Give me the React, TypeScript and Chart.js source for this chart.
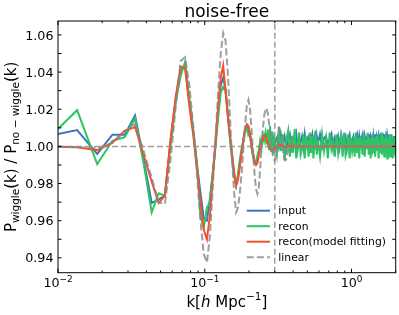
import React, { useEffect, useRef } from "react";
import { Chart, registerables } from "chart.js";
Chart.register(...registerables);

// ---------- data ----------
const kBins = [0.0085,0.0135,0.0185,0.0235,0.0285,0.0335,0.0385,0.0435,0.0485,0.0535,
0.0585,0.0635,0.0685,0.0735,0.0785,0.0835,0.0885,0.0935,0.0985,0.1035,
0.1085,0.1135,0.1185,0.1235,0.1285,0.1335,0.1385,0.1435,0.1485,0.1535,
0.1585,0.1635,0.1685,0.1735,0.1785,0.1835,0.1885,0.1935,0.1985,0.2035,
0.2085,0.2135,0.2185,0.2235,0.2285,0.2335,0.2385,0.2435,0.2485,0.2535,
0.2585,0.2635,0.2685,0.2735,0.2785,0.2835,0.2885,0.2935,0.2985];

const inputLow = [1.0055,1.0088,0.996,1.0063,1.0063,1.0167,0.992,0.9695,0.9715,0.9735,
1.003,1.026,1.041,1.043,1.024,1.008,0.990,0.975,0.961,0.960,
0.972,0.986,1.002,1.020,1.033,1.037,1.031,1.017,1.005,0.995,
0.985,0.979,0.984,0.991,0.997,1.004,1.009,1.011,1.010,1.006,
1.000,0.996,0.992,0.991,0.993,0.997,1.000,1.003,1.005,1.006,
1.005,1.003,1.004,1.002,1.000,1.003,0.999,1.004,1.001];

const reconLow = [1.004,1.0195,0.9905,1.003,1.005,1.015,0.990,0.9645,0.9748,0.9735,
1.001,1.024,1.038,1.0456,1.026,1.009,0.991,0.962,0.9565,0.967,
0.970,0.986,1.000,1.016,1.029,1.032,1.030,1.018,1.004,0.993,
0.984,0.979,0.985,0.993,0.999,1.003,1.008,1.010,1.006,1.007,
0.999,0.994,0.991,0.9905,0.995,0.998,1.003,0.999,1.006,1.003,
1.007,1.001,1.009,0.998,1.011,0.997,1.008,0.996,1.005];

const fitLow = [1.000,0.9995,0.998,1.002,1.0085,1.0104,0.995,0.981,0.9695,0.9735,
1.004,1.027,1.043,1.042,1.022,1.006,0.988,0.970,0.955,0.950,
0.963,0.983,1.003,1.022,1.037,1.0435,1.030,1.017,1.006,0.996,
0.986,0.979,0.982,0.989,0.997,1.004,1.0095,1.012,1.011,1.006,
1.001,0.996,0.992,0.990,0.991,0.995,0.999,1.002,1.004,1.0055,
1.006,1.004,1.002,1.000,0.999,0.998,0.9978,0.998,0.9988];

const linearLow = [1.000,0.9995,0.999,1.002,1.008,1.012,0.997,0.983,0.970,0.969,
0.993,1.022,1.046,1.048,1.033,1.011,0.985,0.960,0.942,0.9375,
0.952,0.978,1.005,1.030,1.050,1.061,1.057,1.040,1.016,0.993,
0.975,0.9645,0.967,0.975,0.986,0.999,1.012,1.022,1.025,1.020,
1.009,0.996,0.985,0.977,0.9745,0.978,0.988,0.999,1.009,1.016,
1.020,1.0205,1.018,1.013,1.008,1.002,0.997,0.9935,0.9925];

const kHigh = [0.31,0.32,0.33,0.34,0.35,0.36,0.37,0.38,0.39,0.40,
0.41,0.42,0.43,0.44,0.45,0.46,0.47,0.48,0.49,0.50,
0.51,0.52,0.53,0.54,0.55,0.56,0.57,0.58,0.59,0.61,
0.63,0.65,0.67,0.69,0.71,0.73,0.75,0.77,0.79,0.81,
0.83,0.85,0.87,0.89,0.91,0.93,0.95,0.97,0.99,1.01,
1.03,1.05,1.07,1.09,1.11,1.13,1.15,1.17,1.19,1.21,
1.23,1.25,1.27,1.29,1.31,1.33,1.35,1.37,1.39,1.41,
1.43,1.45,1.47,1.49,1.51,1.53,1.55,1.57,1.59,1.61,
1.63,1.65,1.67,1.69,1.71,1.73,1.75,1.77,1.79,1.81,
1.83,1.85,1.87,1.89,1.91,1.93,1.95,1.97,1.99];

const inputHigh = [1.0045,0.9995,1.0065,1.0015,1.0055,0.9985,1.0035,1.0065,0.9995,1.0045,
1.0015,1.0065,0.9985,1.0045,1.0025,1.0055,0.9995,1.0065,1.0005,1.0045,
1.0055,0.9995,1.0035,1.0065,1.0005,1.0045,0.9985,1.0055,1.0015,1.0065,
0.9995,1.0045,1.0055,1.0005,1.0035,1.0065,0.9985,1.0045,1.0015,1.0055,
0.9995,1.0065,1.0025,1.0035,1.0055,0.9985,1.0045,1.0065,0.9995,1.0035,
1.0055,1.0005,1.0045,1.0065,0.9995,1.0055,1.0015,1.0045,1.0065,0.9985,
1.0055,1.0025,1.0045,0.9995,1.0065,1.0015,1.0055,1.0035,0.9995,1.0055,
1.0015,1.0065,1.0005,1.0045,1.0025,1.0055,1.0015,1.0065,0.9995,1.0045,
1.0055,0.9995,1.0065,1.0015,1.0045,1.0005,1.0055,1.0025,1.0065,0.9995,
1.0055,1.0015,1.0065,1.0005,1.0045,1.0025,1.0055,0.9995,1.0055];

const reconHigh = [0.9955,1.0105,0.9975,1.0065,0.9925,1.0035,1.0085,0.9945,1.0055,0.9965,
1.0095,0.9935,1.0015,1.0075,0.9955,0.9985,1.0065,0.9935,1.0045,1.0025,
0.9945,1.0075,0.9965,1.0055,0.9935,1.0015,1.0085,0.9955,1.0035,0.9945,
1.0065,0.9975,1.0045,0.9935,1.0075,0.9985,1.0025,0.9945,1.0065,0.9965,
1.0035,1.0055,0.9945,1.0075,0.9955,0.9995,1.0065,0.9935,1.0045,0.9975,
1.0025,0.9945,1.0075,0.9965,1.0045,0.9935,1.0055,1.0015,0.9955,1.0065,
0.9945,1.0035,0.9985,1.0075,0.9955,1.0045,0.9935,1.0025,1.0065,0.9965,
1.0045,0.9945,1.0055,0.9975,1.0065,0.9935,1.0035,0.9965,1.0075,0.9955,
1.0025,1.0055,0.9945,1.0045,0.9965,1.0065,0.9935,1.0035,0.9975,1.0055,
0.9945,1.0065,0.9955,1.0035,0.9935,1.0045,0.9965,1.0055,0.9945];

const kFitHigh = [0.3085,0.3235,0.3385,0.3585,0.38,0.41,0.45,0.5,0.7,1.0,1.5,2.0];
const fitHigh = [0.9995,1.001,1.0005,0.9995,1.0003,0.9998,1.0002,1.0,1.0,1.0,1.0,1.0];

const kLinHigh = [0.3035,0.3085,0.3135,0.3185,0.3235,0.3285,0.3335,0.3385,0.3435,0.3485,0.3535,0.3585,0.3635,0.37,0.38,0.39,0.40,0.42,0.45,0.6,1.0,2.0];
const linearHigh = [0.994,0.998,1.004,1.008,1.0095,1.008,1.004,1.000,0.996,0.9935,0.9925,0.993,0.995,0.998,1.001,1.002,1.001,0.999,1.000,1.000,1.000,1.000];

const xRange = [0.01, 2];
const yRange = [0.932, 1.0675];
const refY = 1.0;
const refK = 0.3;
const yTickLabels = [0.94, 0.96, 0.98, 1.0, 1.02, 1.04, 1.06];
const xMajor = [0.01, 0.1, 1];
const legendLabels = ["input", "recon", "recon(model fitting)", "linear"];
const titleText = "noise-free";

// ---------- style ----------
const C_BLUE = "#3a78bb";
const C_GREEN = "#2dc463";
const C_RED = "#f4512b";
const C_GRAY = "rgba(135,135,135,0.8)";
const FONT = '"DejaVu Sans"';

const pts = (ks: number[], vs: number[]) => ks.map((k, i) => ({ x: k, y: vs[i] }));

type Run = { t: string; s: number; dy?: number; it?: boolean };
function runsWidth(ctx: CanvasRenderingContext2D, runs: Run[]) {
  let w = 0;
  for (const r of runs) {
    ctx.font = `${r.it ? "italic " : ""}${r.s}px ${FONT}`;
    w += ctx.measureText(r.t).width;
  }
  return w;
}
function drawRuns(ctx: CanvasRenderingContext2D, runs: Run[], x: number, y: number) {
  let cx = x;
  for (const r of runs) {
    ctx.font = `${r.it ? "italic " : ""}${r.s}px ${FONT}`;
    ctx.fillText(r.t, cx, y + (r.dy || 0));
    cx += ctx.measureText(r.t).width;
  }
}

const decor = {
  id: "decor",
  afterDraw(chart: any) {
    const ctx: CanvasRenderingContext2D = chart.ctx;
    const a = chart.chartArea;
    const xs = chart.scales.x;
    const ys = chart.scales.y;
    ctx.save();
    ctx.fillStyle = "#000";
    ctx.strokeStyle = "#000";
    ctx.lineWidth = 1;
    ctx.setLineDash([]);
    ctx.strokeRect(a.left, a.top, a.right - a.left, a.bottom - a.top);
    ctx.beginPath();
    for (const d of xMajor) {
      for (let m = 1; m <= 9; m++) {
        const v = d * m;
        if (v < xRange[0] - 1e-9 || v > xRange[1] + 1e-9) continue;
        const px = xs.getPixelForValue(v);
        const len = m === 1 ? 4 : 2.2;
        ctx.moveTo(px, a.bottom); ctx.lineTo(px, a.bottom - len);
        ctx.moveTo(px, a.top); ctx.lineTo(px, a.top + len);
      }
    }
    for (let i = 94; i <= 106; i++) {
      const py = ys.getPixelForValue(i / 100);
      ctx.moveTo(a.left, py); ctx.lineTo(a.left + 3.5, py);
      ctx.moveTo(a.right, py); ctx.lineTo(a.right - 3.5, py);
    }
    ctx.stroke();
    ctx.textAlign = "right";
    ctx.textBaseline = "alphabetic";
    ctx.font = `12.7px ${FONT}`;
    for (const v of yTickLabels) {
      const py = ys.getPixelForValue(v);
      ctx.fillText(v.toFixed(2), a.left - 4.5, py + 4.6);
    }
    ctx.textAlign = "left";
    for (const v of xMajor) {
      const px = xs.getPixelForValue(v);
      const e = Math.round(Math.log10(v));
      const runs: Run[] = [
        { t: "10", s: 12.7 },
        { t: e < 0 ? "\u2212" + Math.abs(e) : String(e), s: 8.9, dy: -5.2 },
      ];
      const w = runsWidth(ctx, runs);
      drawRuns(ctx, runs, px - w / 2, 286.7);
    }
    const cx = (a.left + a.right) / 2;
    ctx.font = `17px ${FONT}`;
    ctx.textAlign = "center";
    ctx.fillText(titleText, cx, 16.7);
    ctx.textAlign = "left";
    const xl: Run[] = [
      { t: "k[", s: 15 },
      { t: "h", s: 15, it: true },
      { t: " Mpc", s: 15 },
      { t: "\u22121", s: 10.5, dy: -6.5 },
      { t: "]", s: 15 },
    ];
    const xw = runsWidth(ctx, xl);
    drawRuns(ctx, xl, cx - xw / 2, 306.7);
    const yl: Run[] = [
      { t: "P", s: 15 },
      { t: "wiggle", s: 10.5, dy: 3.3 },
      { t: "(k) / P", s: 15 },
      { t: "no \u2212 wiggle", s: 10.5, dy: 3.3 },
      { t: "(k)", s: 15 },
    ];
    const yw = runsWidth(ctx, yl);
    ctx.save();
    ctx.translate(15.5, (a.top + a.bottom) / 2);
    ctx.rotate(-Math.PI / 2);
    drawRuns(ctx, yl, -yw / 2, 0);
    ctx.restore();
    const cols = [C_BLUE, C_GREEN, C_RED, C_GRAY];
    const rowY = [210.7, 226.2, 241.7, 257.2];
    ctx.font = `10.8px ${FONT}`;
    ctx.textAlign = "left";
    for (let i = 0; i < legendLabels.length; i++) {
      ctx.beginPath();
      ctx.strokeStyle = cols[i];
      ctx.lineWidth = 2;
      ctx.setLineDash(i === 3 ? [7, 3.2] : []);
      ctx.moveTo(246.7, rowY[i]);
      ctx.lineTo(270, rowY[i]);
      ctx.stroke();
      ctx.fillStyle = "#000";
      ctx.fillText(legendLabels[i], 278.3, rowY[i] + 3.6);
    }
    ctx.restore();
  },
};

export default function App() {
  const ref = useRef<HTMLCanvasElement | null>(null);
  useEffect(() => {
    document.body.style.margin = "0";
    const canvas = ref.current!;
    const chart = new Chart(canvas, {
      type: "line",
      data: {
        datasets: [
          {
            label: "linear",
            data: [...pts(kBins, linearLow), ...pts(kLinHigh, linearHigh)],
            borderColor: C_GRAY, borderWidth: 2, borderDash: [7, 3.2], order: 0,
          },
          {
            label: "hline",
            data: [{ x: xRange[0], y: refY }, { x: xRange[1], y: refY }],
            borderColor: C_GRAY, borderWidth: 1.5, borderDash: [6, 3], order: 1,
          },
          {
            label: "vline",
            data: [{ x: refK, y: yRange[0] }, { x: refK, y: yRange[1] }],
            borderColor: C_GRAY, borderWidth: 1.5, borderDash: [6, 3], order: 1,
          },
          {
            label: "recon(model fitting)",
            data: [...pts(kBins, fitLow), ...pts(kFitHigh, fitHigh)],
            borderColor: C_RED, borderWidth: 2, order: 2,
          },
          {
            label: "recon",
            data: [...pts(kBins, reconLow), ...pts(kHigh, reconHigh)],
            borderColor: C_GREEN, borderWidth: 2, order: 3,
          },
          {
            label: "input",
            data: [...pts(kBins, inputLow), ...pts(kHigh, inputHigh)],
            borderColor: C_BLUE, borderWidth: 2, order: 4,
          },
        ],
      } as any,
      options: {
        responsive: false,
        animation: false,
        devicePixelRatio: 1,
        layout: { padding: { left: 58, top: 21, right: 3.3, bottom: 42.3 } },
        plugins: { legend: { display: false }, tooltip: { enabled: false }, title: { display: false } },
        elements: { point: { radius: 0 }, line: { tension: 0, fill: false } },
        scales: {
          x: { type: "logarithmic", min: xRange[0], max: xRange[1], display: false },
          y: { type: "linear", min: yRange[0], max: yRange[1], display: false },
        },
      } as any,
      plugins: [decor],
    });
    return () => chart.destroy();
  }, []);
  return (
    <div style={{ position: "fixed", left: 0, top: 0, width: 399, height: 315, background: "#fff" }}>
      <canvas ref={ref} width={399} height={315} style={{ display: "block", width: 399, height: 315 }} />
    </div>
  );
}
